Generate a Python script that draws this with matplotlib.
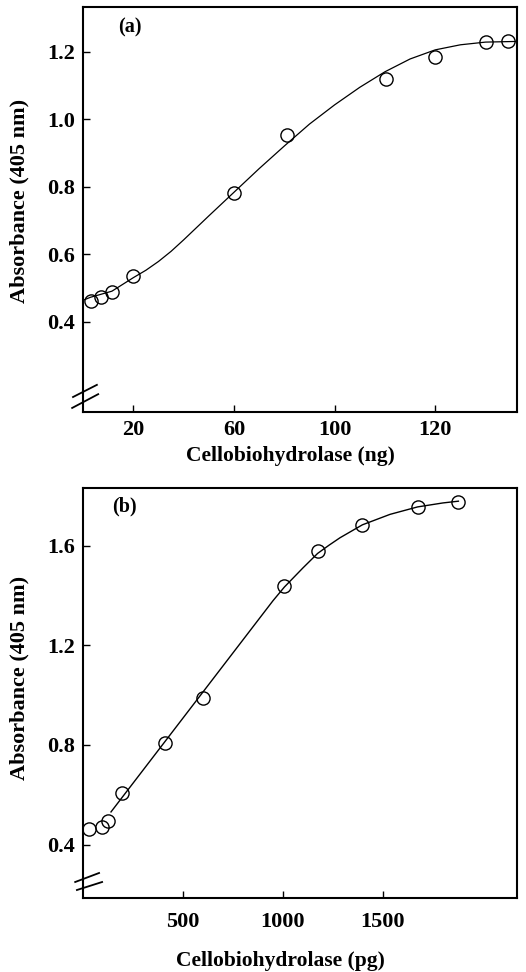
"""Absorbance vs cellobiohydrolase, panels (a) and (b)."""
import matplotlib
matplotlib.use("Agg")
import matplotlib.pyplot as plt

# panel (a): amount in ng (tick positions), absorbance at 405 nm
a_x = [3, 7, 11.5, 20, 60, 81, 120.5, 140, 160, 169]
a_y = [0.460, 0.472, 0.487, 0.535, 0.780, 0.952, 1.118, 1.183, 1.228, 1.231]
a_curve_x = [0, 3, 11.5, 20, 25, 30, 35, 40, 50, 60, 70, 80, 90, 100, 110,
             120, 130, 140, 150, 160, 172.5]
a_curve_y = [0.463, 0.472, 0.490, 0.530, 0.552, 0.578, 0.608, 0.642, 0.713,
             0.783, 0.853, 0.920, 0.985, 1.042, 1.094, 1.140, 1.178, 1.205,
             1.220, 1.228, 1.230]
a_xticks = [20, 60, 100, 140]
a_xticklabels = ["20", "60", "100", "120"]
a_yticks = [0.4, 0.6, 0.8, 1.0, 1.2]

# panel (b): amount in pg
b_x = [30, 93, 127, 193, 410, 598, 1007, 1173, 1397, 1673, 1877]
b_y = [0.462, 0.470, 0.494, 0.607, 0.810, 0.990, 1.439, 1.580, 1.684,
       1.756, 1.778]
b_curve_x = [140, 950, 1007, 1100, 1173, 1230, 1285, 1397, 1535, 1673,
             1800, 1877]
b_curve_y = [0.531, 1.380, 1.435, 1.512, 1.570, 1.603, 1.633, 1.685, 1.727,
             1.757, 1.773, 1.780]
b_xticks = [500, 1000, 1500]
b_yticks = [0.4, 0.8, 1.2, 1.6]

plt.rcParams["font.family"] = "Liberation Serif"
plt.rcParams["font.weight"] = "bold"

W, H = 526, 972
fig = plt.figure(figsize=(W / 100, H / 100), dpi=100)


def make_axes(rect_px):
    left, top, right, bottom = rect_px
    ax = fig.add_axes([left / W, 1 - bottom / H, (right - left) / W,
                       (bottom - top) / H])
    for sp in ax.spines.values():
        sp.set_linewidth(1.5)
    ax.tick_params(direction="in", length=5, width=1.0, labelsize=16,
                   top=False, right=False)
    return ax


def break_marks(ax, strokes):
    for (x0, y0), (x1, y1) in strokes:
        ax.plot([x0, x1], [y0, y1], color="black", lw=1.3,
                transform=ax.transAxes, clip_on=False)


# ---- (a)
ax = make_axes((83, 7, 517, 412))
ax.plot(a_curve_x, a_curve_y, color="black", lw=0.9, zorder=2)
ax.plot(a_x, a_y, "o", mfc="none", mec="black", ms=9.5, mew=1.0, zorder=3)
ax.set_xlim(0, 172.5)
ax.set_ylim(0.132, 1.332)
ax.set_xticks(a_xticks)
ax.set_xticklabels(a_xticklabels)
ax.set_yticks(a_yticks)
ax.set_yticklabels(["%.1f" % v for v in a_yticks])
ax.tick_params(axis="x", pad=6)
ax.tick_params(axis="y", pad=5.5)
ax.set_xlabel("Cellobiohydrolase (ng)", fontsize=15.5, fontweight="bold")
ax.xaxis.set_label_coords(0.477, -0.084)
ax.set_ylabel("Absorbance (405 nm)", fontsize=16, fontweight="bold")
ax.yaxis.set_label_coords(-0.124, 0.521)
ax.text(0.081, 0.95, "(a)", transform=ax.transAxes, fontsize=14.5,
        fontweight="bold", va="center", ha="left")
break_marks(ax, [((-0.023, 0.037), (0.032, 0.067)),
                 ((-0.025, 0.010), (0.035, 0.044))])

# ---- (b)
ax = make_axes((83, 488, 517, 898))
ax.plot(b_curve_x, b_curve_y, color="black", lw=1.0, zorder=2)
ax.plot(b_x, b_y, "o", mfc="none", mec="black", ms=9.5, mew=1.0, zorder=3)
ax.set_xlim(0, 2170)
ax.set_ylim(0.185, 1.833)
ax.set_xticks(b_xticks)
ax.set_yticks(b_yticks)
ax.set_yticklabels(["%.1f" % v for v in b_yticks])
ax.tick_params(axis="x", pad=10)
ax.tick_params(axis="y", pad=5.5)
ax.set_xlabel("Cellobiohydrolase (pg)", fontsize=15.5, fontweight="bold")
ax.xaxis.set_label_coords(0.454, -0.13)
ax.set_ylabel("Absorbance (405 nm)", fontsize=16, fontweight="bold")
ax.yaxis.set_label_coords(-0.124, 0.537)
ax.text(0.067, 0.954, "(b)", transform=ax.transAxes, fontsize=14.5,
        fontweight="bold", va="center", ha="left")
break_marks(ax, [((-0.018, 0.039), (0.037, 0.061)),
                 ((-0.014, 0.0195), (0.044, 0.039))])

fig.savefig("out.png", dpi=100)
